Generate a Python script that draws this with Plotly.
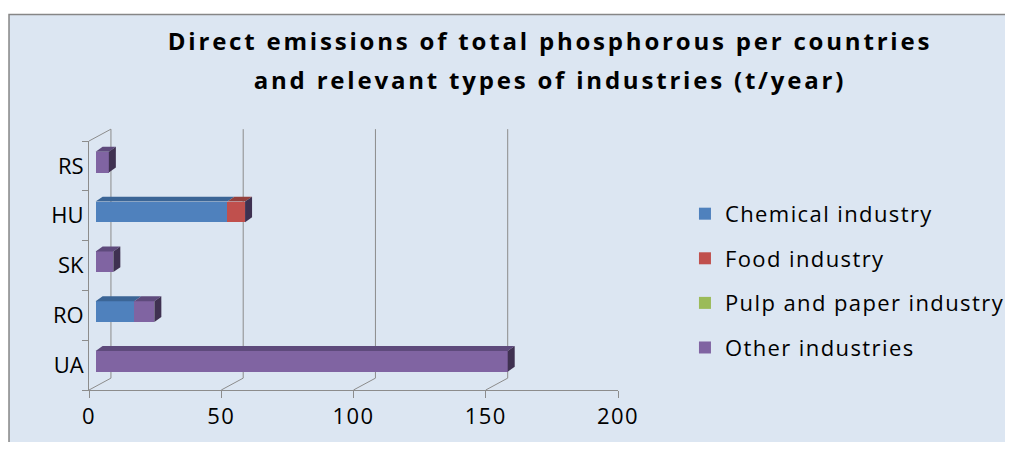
import plotly.graph_objects as go

# data (t/year)
countries = ["UA", "RO", "SK", "HU", "RS"]
chemical = [0, 14.6, 0, 49.8, 0]
food = [0, 0, 0, 6.7, 0]
pulp_paper = [0, 0, 0, 0, 0]
other = [155.8, 7.6, 6.7, 0, 5.0]

series = [
    ("Chemical industry", chemical, "#4F81BD", "#3B6596"),
    ("Food industry", food, "#C0504D", "#94403D"),
    ("Pulp and paper industry", pulp_paper, "#9BBB59", "#789343"),
    ("Other industries", other, "#8064A2", "#5E4A7C"),
]
x_ticks = [0, 50, 100, 150, 200]

# fake 3d look of the excel chart
DX = 8.3          # back wall shift, x units
DY = 0.0476       # back wall shift, paper units
FDX = 2.65        # bar depth, x units
FDY = 0.1         # bar depth, category units
BAR_W = 0.416
BAR_OFF = -0.133
GRID = "#8C8C8C"


def spaced(txt, px):
    return f"<span style='letter-spacing:{px}px'>{txt}</span>"


fig = go.Figure()

for i, (name, vals, col, _) in enumerate(series):
    fig.add_trace(
        go.Bar(
            y=countries,
            x=vals,
            name=spaced(name, 1.4),
            orientation="h",
            marker=dict(color=col, line=dict(width=0)),
            width=BAR_W,
            offset=BAR_OFF,
            xaxis="x2",
            legendgroup=f"g{i}",
        )
    )

shapes = []

# outer chart frame
shapes.append(dict(
    type="rect", xref="paper", yref="paper",
    x0=-0.1512, x1=3, y0=-0.3, y1=1.508,
    fillcolor="#DCE6F2", line=dict(color="#868686", width=1.5), layer="below",
))

# back wall grid lines + floor diagonals
for t in x_ticks:
    shapes.append(dict(type="line", xref="x", yref="paper",
                       x0=t + DX, x1=t + DX, y0=DY, y1=1 + DY,
                       line=dict(color=GRID, width=1), layer="below"))
    shapes.append(dict(type="line", xref="x", yref="paper",
                       x0=t, x1=t + DX, y0=0, y1=DY,
                       line=dict(color=GRID, width=1), layer="below"))
shapes.append(dict(type="line", xref="x", yref="paper",
                   x0=0, x1=DX, y0=1, y1=1 + DY,
                   line=dict(color=GRID, width=1), layer="below"))

# top faces and right faces of the bars
for k, c in enumerate(countries):
    top = k + BAR_OFF + BAR_W
    bot = k + BAR_OFF
    base = 0
    for name, vals, col, dark in series:
        v = vals[k]
        if v > 0:
            p = (f"M {base},{top} L {base + v},{top} "
                 f"L {base + v + FDX},{top + FDY} L {base + FDX},{top + FDY} Z")
            shapes.append(dict(type="path", xref="x2", yref="y", path=p,
                               fillcolor=dark, line=dict(width=0)))
        base += v
    p = (f"M {base},{bot} L {base},{top} "
         f"L {base + FDX},{top + FDY} L {base + FDX},{bot + FDY} Z")
    shapes.append(dict(type="path", xref="x2", yref="y", path=p,
                       fillcolor="#3F3151", line=dict(width=0)))

title_txt = (
    "<b><span style='font-size:24px;letter-spacing:2.8px'>"
    "Direct emissions of total phosphorous per countries</span>"
    "<br><span style='font-size:24px;letter-spacing:2.8px'>"
    "and relevant types of industries (t/year)</span></b>"
)

# page body has an 8px margin all round, keep the figure inside the window
fig.update_layout(
    width=997,
    height=434,
    margin=dict(l=81, r=387, t=133, b=49),
    paper_bgcolor="white",
    plot_bgcolor="rgba(0,0,0,0)",
    barmode="stack",
    font=dict(family="Open Sans", color="black"),
    title=dict(
        text=title_txt,
        x=0.5436,
        xanchor="center",
        y=0.904,
        yanchor="top",
        font=dict(family="Open Sans", size=30, color="black"),
    ),
    xaxis=dict(
        range=[0, 200],
        tickvals=x_ticks,
        ticktext=[spaced(str(t), 1.5) for t in x_ticks],
        showgrid=False,
        zeroline=False,
        showline=True,
        linecolor=GRID,
        ticks="outside",
        ticklen=7,
        tickcolor=GRID,
        tickfont=dict(size=22),
    ),
    xaxis2=dict(
        range=[-2.5, 197.5],
        overlaying="x",
        anchor="y",
        visible=False,
    ),
    yaxis=dict(
        type="category",
        categoryorder="array",
        categoryarray=countries,
        range=[-0.5, 4.5],
        showgrid=False,
        zeroline=False,
        showline=True,
        linecolor=GRID,
        ticks="outside",
        tickson="boundaries",
        ticklen=6,
        tickcolor=GRID,
        tickfont=dict(size=22),
    ),
    legend=dict(
        xref="container",
        yref="container",
        x=0.679,
        y=0.574,
        xanchor="left",
        yanchor="top",
        traceorder="grouped",
        tracegroupgap=13,
        bgcolor="rgba(0,0,0,0)",
        font=dict(size=22),
    ),
    shapes=shapes,
)

fig.write_html("out.html")
